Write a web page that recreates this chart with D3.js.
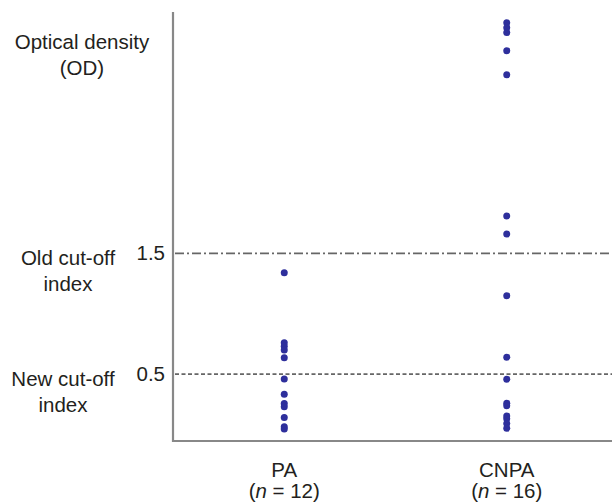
<!DOCTYPE html>
<html lang="en">

<head>
    <meta charset="utf-8" />
    <script src="https://d3js.org/d3.v7.min.js"></script>
    <style type="text/css">
        body {
            margin: 0;
            background: #fff;
        }

        text {
            font-family: "Liberation Sans", Arial, sans-serif;
            fill: #231f20;
        }
    </style>
</head>

<body>
    <div class="viz-box"></div>
    <script type="text/javascript">
        // values (optical density per sample)
        var groups = ["PA", "CNPA"];
        var groupCounts = [12, 16];
        var paValues = [1.34, 0.76, 0.73, 0.70, 0.635, 0.46, 0.333, 0.256, 0.23, 0.14, 0.065, 0.046];
        var cnpaValues = [3.41, 3.37, 3.33, 3.18, 2.98, 1.81, 1.66, 1.15, 0.64, 0.458,
            0.259, 0.239, 0.154, 0.131, 0.09, 0.051];
        var tickValues = [0.5, 1.5];
        var cutoffs = [
            { value: 1.5, label: ["Old cut-off", "index"], dash: "9,3,2,3", cx: 68 },
            { value: 0.5, label: ["New cut-off", "index"], dash: "4,2.5", cx: 63 }
        ];

        let width = 616, height = 502;
        let margins = { left: 173, right: 4, top: 12, bottom: 61 };

        var svg = d3.select("div.viz-box")
            .append('svg')
            .attr('width', width)
            .attr('height', height);

        // the groups sit a bit right of the exact middle in the original
        var x = d3.scalePoint()
            .domain(groups)
            .range([margins.left, width + 2])
            .padding(0.5);

        var y = d3.scaleLinear()
            .domain([-0.054, 3.5])
            .range([height - margins.bottom, margins.top]);

        var series = [
            { group: "PA", values: paValues },
            { group: "CNPA", values: cnpaValues }
        ];

        // cut-off lines
        svg.selectAll('line.cut')
            .data(cutoffs)
            .enter()
            .append('line')
            .attr('class', 'cut')
            .attr('x1', margins.left + 2)
            .attr('x2', width - margins.right)
            .attr('y1', function (d) { return y(d.value); })
            .attr('y2', function (d) { return y(d.value); })
            .attr('stroke', '#666')
            .attr('stroke-width', 1.9)
            .attr('stroke-dasharray', function (d) { return d.dash; });

        // axis lines
        svg.append('path')
            .attr('d', 'M' + margins.left + ',' + margins.top +
                'V' + (height - margins.bottom) + 'H' + (width - margins.right))
            .attr('fill', 'none')
            .attr('stroke', '#888')
            .attr('stroke-width', 2.2);

        var yAxis = svg.append('g')
            .attr('transform', 'translate(' + margins.left + ',0)')
            .call(d3.axisLeft(y).tickValues(tickValues).tickSize(0).tickPadding(8)
                .tickFormat(d3.format('.1f')));
        yAxis.select('.domain').remove();
        yAxis.selectAll('text')
            .style('font-size', '20.5px')
            .style('font-family', '"Liberation Sans", Arial, sans-serif')
            .attr('fill', '#231f20');

        // dots
        series.forEach(function (s) {
            svg.selectAll(null)
                .data(s.values)
                .enter()
                .append('circle')
                .attr('cx', x(s.group))
                .attr('cy', function (d) { return y(d); })
                .attr('r', 3.5)
                .attr('fill', '#2e2f9c');
        });

        // left side labels
        var leftLabels = [{ lines: ["Optical density", "(OD)"], cx: 82, y: 49 }];
        cutoffs.forEach(function (c) {
            leftLabels.push({ lines: c.label, cx: c.cx, y: y(c.value) + 12 });
        });
        leftLabels.forEach(function (l) {
            var t = svg.append('text')
                .attr('text-anchor', 'middle')
                .style('font-size', '20.5px');
            l.lines.forEach(function (line, i) {
                t.append('tspan')
                    .attr('x', l.cx)
                    .attr('y', l.y + i * 25.5)
                    .text(line);
            });
        });

        // group labels under the axis
        groups.forEach(function (g, i) {
            var t = svg.append('text')
                .attr('text-anchor', 'middle')
                .style('font-size', '20.5px');
            t.append('tspan')
                .attr('x', x(g))
                .attr('y', 477)
                .text(g);
            var t2 = t.append('tspan')
                .attr('x', x(g))
                .attr('y', 498);
            t2.append('tspan').text('(');
            t2.append('tspan').style('font-style', 'italic').text('n');
            t2.append('tspan').text(' = ' + groupCounts[i] + ')');
        });
    </script>
</body>

</html>
